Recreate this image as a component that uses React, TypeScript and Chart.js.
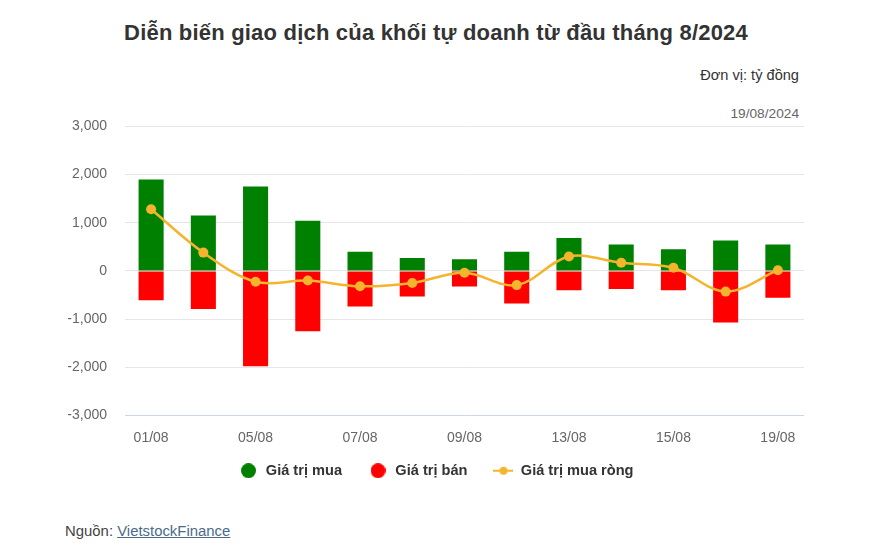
import React, { useEffect, useRef } from "react";
import { Chart, registerables } from "chart.js";

Chart.register(...registerables);

const categories = ["01/08", "02/08", "05/08", "06/08", "07/08", "08/08", "09/08", "12/08", "13/08", "14/08", "15/08", "16/08", "19/08"];
const buyValues = [1900, 1150, 1750, 1040, 395, 270, 240, 395, 685, 550, 450, 630, 550];
const sellValues = [-610, -790, -1980, -1255, -740, -530, -325, -675, -400, -375, -400, -1070, -555];
const netValues = [1280, 380, -225, -200, -320, -250, -40, -295, 300, 170, 65, -430, 15];
const yTicks = [-3000, -2000, -1000, 0, 1000, 2000, 3000];
const seriesNames = ["Giá trị mua", "Giá trị bán", "Giá trị mua ròng"];

const GREEN = "#008000";
const RED = "#ff0000";
const GOLD = "#f4b42c";
const FONT = "'Liberation Sans', Arial, Helvetica, sans-serif";

function circleImg(color: string) {
  const c = document.createElement("canvas");
  c.width = 15;
  c.height = 15;
  const ctx = c.getContext("2d")!;
  ctx.fillStyle = color;
  ctx.beginPath();
  ctx.arc(7.5, 7.5, 7.5, 0, Math.PI * 2);
  ctx.fill();
  return c;
}

function lineImg(color: string) {
  const c = document.createElement("canvas");
  c.width = 20;
  c.height = 10;
  const ctx = c.getContext("2d")!;
  ctx.strokeStyle = color;
  ctx.lineWidth = 2;
  ctx.beginPath();
  ctx.moveTo(0, 5);
  ctx.lineTo(20, 5);
  ctx.stroke();
  ctx.fillStyle = color;
  ctx.beginPath();
  ctx.arc(10, 5, 4, 0, Math.PI * 2);
  ctx.fill();
  return c;
}

const shiftLegend = {
  id: "shiftLegend",
  afterLayout(chart: any) {
    if (chart.legend) {
      chart.legend.top -= 10;
      chart.legend.bottom -= 10;
    }
  },
};

export default function App() {
  const ref = useRef<HTMLCanvasElement>(null);

  useEffect(() => {
    if (!ref.current) return;
    Chart.defaults.font.family = FONT;
    const imgs = [circleImg(GREEN), circleImg(RED), lineImg(GOLD)];
    const chart = new Chart(ref.current, {
      type: "bar",
      data: {
        labels: categories,
        datasets: [
          {
            type: "bar",
            label: seriesNames[0],
            data: buyValues,
            backgroundColor: GREEN,
            barPercentage: 0.48,
            categoryPercentage: 1,
            order: 1,
          },
          {
            type: "bar",
            label: seriesNames[1],
            data: sellValues,
            backgroundColor: RED,
            barPercentage: 0.48,
            categoryPercentage: 1,
            order: 1,
          },
          {
            type: "line",
            label: seriesNames[2],
            data: netValues,
            borderColor: GOLD,
            backgroundColor: GOLD,
            borderWidth: 2.5,
            pointRadius: 5,
            pointBackgroundColor: GOLD,
            pointBorderWidth: 0,
            tension: 0.35,
            order: 0,
          } as any,
        ],
      },
      plugins: [shiftLegend],
      options: {
        animation: false,
        responsive: false,
        layout: { padding: { left: 68, right: 68, top: 23, bottom: 22 } },
        scales: {
          x: {
            stacked: true,
            grid: { display: false, drawTicks: false },
            border: { display: false },
            ticks: {
              autoSkip: false,
              maxRotation: 0,
              padding: 14,
              color: "#666666",
              font: { size: 14 },
              callback: (_v: any, i: number) => (i % 2 === 0 ? categories[i] : ""),
            },
            afterFit: (s: any) => {
              s.height = 32;
            },
          },
          y: {
            stacked: true,
            min: -3000,
            max: 3000,
            afterBuildTicks: (s: any) => {
              s.ticks = yTicks.map((v) => ({ value: v }));
            },
            grid: {
              drawTicks: false,
              color: (ctx: any) => (ctx.tick && ctx.tick.value === -3000 ? "#ccd6eb" : "#e6e6e6"),
              lineWidth: 1,
            },
            border: { display: false },
            ticks: {
              padding: 18,
              color: "#666666",
              font: { size: 14 },
              callback: (v: any) => Number(v).toLocaleString("en-US"),
            },
            afterFit: (s: any) => {
              s.width = 57;
            },
          },
        },
        plugins: {
          title: { display: false },
          tooltip: { enabled: false },
          legend: {
            position: "bottom",
            labels: {
              usePointStyle: true,
              pointStyleWidth: 20,
              boxHeight: 14,
              padding: 26,
              color: "#333333",
              font: { size: 14.6, weight: "bold" },
              generateLabels: () =>
                seriesNames.map((name, i) => ({
                  text: name,
                  fillStyle: [GREEN, RED, GOLD][i],
                  strokeStyle: [GREEN, RED, GOLD][i],
                  lineWidth: 0,
                  pointStyle: imgs[i] as any,
                  datasetIndex: i,
                  hidden: false,
                  fontColor: "#333333",
                })),
            },
          },
        },
      },
    });
    return () => chart.destroy();
  }, []);

  return (
    <div
      style={{
        position: "fixed",
        left: 0,
        top: 0,
        width: 872,
        height: 558,
        background: "#ffffff",
        fontFamily: FONT,
        overflow: "hidden",
      }}
    >
      <div
        style={{
          position: "absolute",
          left: 0,
          top: 19,
          width: 872,
          textAlign: "center",
          fontSize: 22,
          letterSpacing: "0.2px",
          lineHeight: "27px",
          fontWeight: "bold",
          color: "#333333",
        }}
      >
        Diễn biến giao dịch của khối tự doanh từ đầu tháng 8/2024
      </div>
      <div
        style={{
          position: "absolute",
          right: 73,
          top: 66,
          fontSize: 14.6,
          lineHeight: "18px",
          color: "#333333",
        }}
      >
        Đơn vị: tỷ đồng
      </div>
      <div
        style={{
          position: "absolute",
          right: 73,
          top: 105,
          fontSize: 13.7,
          lineHeight: "18px",
          color: "#666666",
        }}
      >
        19/08/2024
      </div>
      <canvas
        ref={ref}
        width={872}
        height={420}
        style={{ position: "absolute", left: 0, top: 100, width: 872, height: 420 }}
      />
      <div
        style={{
          position: "absolute",
          left: 65,
          top: 522,
          fontSize: 14.9,
          lineHeight: "18px",
          color: "#444444",
        }}
      >
        Nguồn:{" "}
        <a href="#" style={{ color: "#4b6b8a", textDecoration: "underline" }}>
          VietstockFinance
        </a>
      </div>
    </div>
  );
}
